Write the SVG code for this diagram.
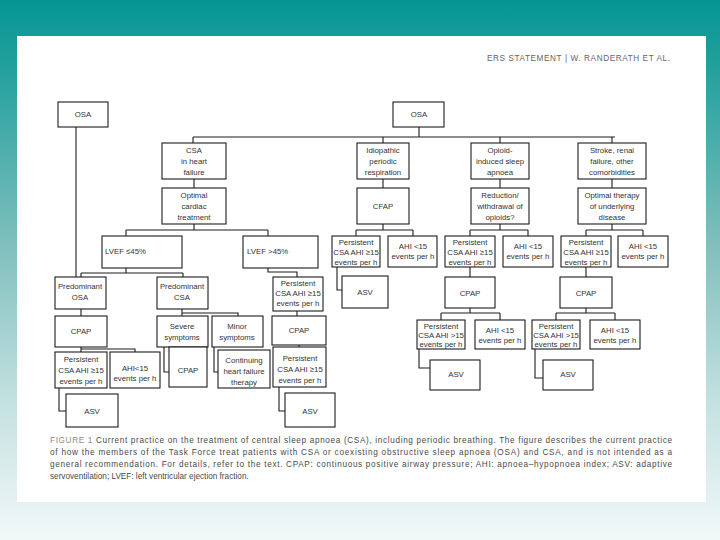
<svg xmlns="http://www.w3.org/2000/svg" width="720" height="540" viewBox="0 0 720 540">
<defs>
<linearGradient id="bg" x1="0" y1="0" x2="0" y2="1">
<stop offset="0" stop-color="#049693"/>
<stop offset="0.12" stop-color="#22a09d"/>
<stop offset="0.45" stop-color="#7fbfbd"/>
<stop offset="0.75" stop-color="#c4e2e1"/>
<stop offset="1" stop-color="#f2f8f8"/>
</linearGradient>
<style>
.b{fill:#fff;stroke:#1c1c1c;stroke-width:1.1}
.c{fill:none;stroke:#1c1c1c;stroke-width:1.1}
.t{font-family:"Liberation Sans",Arial,sans-serif;font-size:7.8px;fill:#333;text-anchor:middle}
.l{font-family:"Liberation Sans",Arial,sans-serif;font-size:7.8px;fill:#333}
.cap{font-family:"Liberation Sans",Arial,sans-serif;font-size:8.2px;fill:#4a4a4a}
.hd{font-family:"Liberation Sans",Arial,sans-serif;font-size:8.2px;fill:#666}
</style>
</defs>
<rect x="0" y="0" width="720" height="540" fill="url(#bg)"/>
<rect x="17" y="36" width="689" height="466" fill="#ffffff"/>
<text class="hd" x="487" y="61" textLength="183" lengthAdjust="spacing">ERS STATEMENT  |  W. RANDERATH ET AL.</text>

<g id="connectors">
<path class="c" d="M76,127 V277"/>
<path class="c" d="M419,127 V137 M193,137 H615 M193,137 V143 M383,137 V143 M500,137 V143 M612,137 V143"/>
<path class="c" d="M194,179 V188 M194,224 V230 M126,230 H268 M126,230 V236 M268,230 V236"/>
<path class="c" d="M126,268 V273 M81,273 H183 M81,273 V277 M183,273 V277"/>
<path class="c" d="M268,268 V272 H297 V277"/>
<path class="c" d="M81,309 V316 M182,309 V316 M182,313 H238 V316"/>
<path class="c" d="M297,311 V316"/>
<path class="c" d="M81,347 V352 M81,349 H135 V352"/>
<path class="c" d="M164,347 V372 H169"/>
<path class="c" d="M214,347 V372 H218"/>
<path class="c" d="M299,345 V347"/>
<path class="c" d="M59,388 V411 H66"/>
<path class="c" d="M279,387 V411 H285"/>
<path class="c" d="M383,179 V188 M383,224 V230 M356,230 H413 M356,230 V236 M413,230 V236"/>
<path class="c" d="M337,267 V290 H342"/>
<path class="c" d="M500,179 V188 M500,224 V230 M470,230 H528 M470,230 V236 M528,230 V236"/>
<path class="c" d="M470,267 V277 M470,308 V313 M441,313 H500 M441,313 V320 M500,313 V320"/>
<path class="c" d="M419,349 V368 H430"/>
<path class="c" d="M612,179 V188 M612,224 V230 M586,230 H643 M586,230 V236 M643,230 V236"/>
<path class="c" d="M586,267 V277 M586,308 V313 M556,313 H615 M556,313 V320 M615,313 V320"/>
<path class="c" d="M535,349 V378 H543"/>
</g>

<g id="n_osa_left"><rect class="b" x="58" y="102" width="50" height="25"/><text class="t" x="83" y="117">OSA</text></g>
<g id="n_osa_top"><rect class="b" x="393" y="102" width="51" height="25"/><text class="t" x="419" y="117">OSA</text></g>

<g id="n_csa_hf"><rect class="b" x="162" y="143" width="64" height="36"/><text class="t" x="194" y="153">CSA</text><text class="t" x="194" y="164">in heart</text><text class="t" x="194" y="175">failure</text></g>
<g id="n_opt_card"><rect class="b" x="162" y="188" width="64" height="36"/><text class="t" x="194" y="198">Optimal</text><text class="t" x="194" y="209">cardiac</text><text class="t" x="194" y="220">treatment</text></g>
<g id="n_idio"><rect class="b" x="357" y="143" width="52" height="36"/><text class="t" x="383" y="153">Idiopathic</text><text class="t" x="383" y="164">periodic</text><text class="t" x="383" y="175">respiration</text></g>
<g id="n_cpap_d"><rect class="b" x="357" y="188" width="52" height="36"/><text class="t" x="383" y="209">CFAP</text></g>
<g id="n_opioid"><rect class="b" x="471" y="143" width="58" height="36"/><text class="t" x="500" y="153">Opioid-</text><text class="t" x="500" y="164">induced sleep</text><text class="t" x="500" y="175">apnoea</text></g>
<g id="n_reduction"><rect class="b" x="471" y="188" width="58" height="36"/><text class="t" x="500" y="198">Reduction/</text><text class="t" x="500" y="209">withdrawal of</text><text class="t" x="500" y="220">opioids?</text></g>
<g id="n_stroke"><rect class="b" x="578" y="143" width="68" height="36"/><text class="t" x="612" y="153">Stroke, renal</text><text class="t" x="612" y="164">failure, other</text><text class="t" x="612" y="175">comorbidities</text></g>
<g id="n_opt_ther"><rect class="b" x="578" y="188" width="68" height="36"/><text class="t" x="612" y="198">Optimal therapy</text><text class="t" x="612" y="209">of underlying</text><text class="t" x="612" y="220">disease</text></g>

<g id="n_lvef_le"><rect class="b" x="102" y="236" width="80" height="32"/><text class="l" x="105" y="254">LVEF ≤45%</text></g>
<g id="n_lvef_gt"><rect class="b" x="243" y="236" width="75" height="32"/><text class="l" x="247" y="254">LVEF &gt;45%</text></g>

<g id="n_pred_osa"><rect class="b" x="55" y="277" width="51" height="32"/><text class="t" x="80" y="289">Predominant</text><text class="t" x="80" y="300">OSA</text></g>
<g id="n_pred_csa"><rect class="b" x="157" y="277" width="51" height="32"/><text class="t" x="182" y="289">Predominant</text><text class="t" x="182" y="300">CSA</text></g>
<g id="n_pers_c1"><rect class="b" x="273" y="277" width="50" height="34"/><text class="t" x="298" y="286">Persistent</text><text class="t" x="298" y="296">CSA AHI ≥15</text><text class="t" x="298" y="306">events per h</text></g>

<g id="n_cpap_a"><rect class="b" x="55" y="316" width="52" height="31"/><text class="t" x="81" y="334">CPAP</text></g>
<g id="n_severe"><rect class="b" x="157" y="316" width="51" height="31"/><text class="t" x="182" y="329">Severe</text><text class="t" x="182" y="340">symptoms</text></g>
<g id="n_minor"><rect class="b" x="212" y="316" width="51" height="31"/><text class="t" x="237" y="329">Minor</text><text class="t" x="237" y="340">symptoms</text></g>
<g id="n_cpap_c"><rect class="b" x="272" y="316" width="54" height="29"/><text class="t" x="299" y="333">CPAP</text></g>

<g id="n_pers_a"><rect class="b" x="55" y="352" width="52" height="36"/><text class="t" x="81" y="362">Persistent</text><text class="t" x="81" y="373">CSA AHI ≥15</text><text class="t" x="81" y="384">events per h</text></g>
<g id="n_ahi_a"><rect class="b" x="110" y="352" width="50" height="36"/><text class="t" x="135" y="371">AHI&lt;15</text><text class="t" x="135" y="381">events per h</text></g>
<g id="n_cpap_b"><rect class="b" x="169" y="347" width="38" height="40"/><text class="t" x="188" y="373">CPAP</text></g>
<g id="n_cont"><rect class="b" x="218" y="350" width="52" height="38"/><text class="t" x="244" y="363">Continuing</text><text class="t" x="244" y="374">heart failure</text><text class="t" x="244" y="385">therapy</text></g>
<g id="n_pers_c2"><rect class="b" x="273" y="347" width="53" height="40"/><text class="t" x="300" y="361">Persistent</text><text class="t" x="300" y="372">CSA AHI ≥15</text><text class="t" x="300" y="383">events per h</text></g>

<g id="n_asv_a"><rect class="b" x="66" y="394" width="52" height="33"/><text class="t" x="92" y="414">ASV</text></g>
<g id="n_asv_c"><rect class="b" x="285" y="393" width="50" height="34"/><text class="t" x="310" y="414">ASV</text></g>

<g id="n_pers_d"><rect class="b" x="332" y="236" width="48" height="31"/><text class="t" x="356" y="245">Persistent</text><text class="t" x="356" y="255">CSA AHI ≥15</text><text class="t" x="356" y="265">events per h</text></g>
<g id="n_ahi_d"><rect class="b" x="388" y="236" width="49" height="31"/><text class="t" x="413" y="249">AHI &lt;15</text><text class="t" x="413" y="259">events per h</text></g>
<g id="n_asv_d"><rect class="b" x="342" y="276" width="46" height="32"/><text class="t" x="365" y="295">ASV</text></g>

<g id="n_pers_e"><rect class="b" x="445" y="236" width="50" height="31"/><text class="t" x="470" y="245">Persistent</text><text class="t" x="470" y="255">CSA AHI ≥15</text><text class="t" x="470" y="265">events per h</text></g>
<g id="n_ahi_e"><rect class="b" x="503" y="236" width="50" height="31"/><text class="t" x="528" y="249">AHI &lt;15</text><text class="t" x="528" y="259">events per h</text></g>
<g id="n_cpap_e"><rect class="b" x="445" y="277" width="50" height="31"/><text class="t" x="470" y="296">CPAP</text></g>
<g id="n_pers_e2"><rect class="b" x="417" y="320" width="48" height="29"/><text class="t" x="441" y="329">Persistent</text><text class="t" x="441" y="338">CSA AHI &gt;15</text><text class="t" x="441" y="347">events per h</text></g>
<g id="n_ahi_e2"><rect class="b" x="475" y="320" width="50" height="29"/><text class="t" x="500" y="333">AHI &lt;15</text><text class="t" x="500" y="343">events per h</text></g>
<g id="n_asv_e"><rect class="b" x="430" y="360" width="50" height="30"/><text class="t" x="456" y="377">ASV</text></g>

<g id="n_pers_f"><rect class="b" x="561" y="236" width="50" height="31"/><text class="t" x="586" y="245">Persistent</text><text class="t" x="586" y="255">CSA AHI ≥15</text><text class="t" x="586" y="265">events per h</text></g>
<g id="n_ahi_f"><rect class="b" x="618" y="236" width="50" height="31"/><text class="t" x="643" y="249">AHI &lt;15</text><text class="t" x="643" y="259">events per h</text></g>
<g id="n_cpap_f"><rect class="b" x="560" y="277" width="52" height="31"/><text class="t" x="586" y="296">CPAP</text></g>
<g id="n_pers_f2"><rect class="b" x="532" y="320" width="48" height="29"/><text class="t" x="556" y="329">Persistent</text><text class="t" x="556" y="338">CSA AHI &gt;15</text><text class="t" x="556" y="347">events per h</text></g>
<g id="n_ahi_f2"><rect class="b" x="590" y="320" width="50" height="29"/><text class="t" x="615" y="333">AHI &lt;15</text><text class="t" x="615" y="343">events per h</text></g>
<g id="n_asv_f"><rect class="b" x="543" y="360" width="50" height="30"/><text class="t" x="568" y="377">ASV</text></g>

<g id="caption">
<text class="cap" x="50" y="443" textLength="622" lengthAdjust="spacing"><tspan fill="#8a8a8a">FIGURE 1</tspan> Current practice on the treatment of central sleep apnoea (CSA), including periodic breathing. The figure describes the current practice</text>
<text class="cap" x="50" y="455" textLength="622" lengthAdjust="spacing">of how the members of the Task Force treat patients with CSA or coexisting obstructive sleep apnoea (OSA) and CSA, and is not intended as a</text>
<text class="cap" x="50" y="467" textLength="622" lengthAdjust="spacing">general recommendation. For details, refer to the text. CPAP: continuous positive airway pressure; AHI: apnoea–hypopnoea index; ASV: adaptive</text>
<text class="cap" x="50" y="479">servoventilation; LVEF: left ventricular ejection fraction.</text>
</g>
</svg>
